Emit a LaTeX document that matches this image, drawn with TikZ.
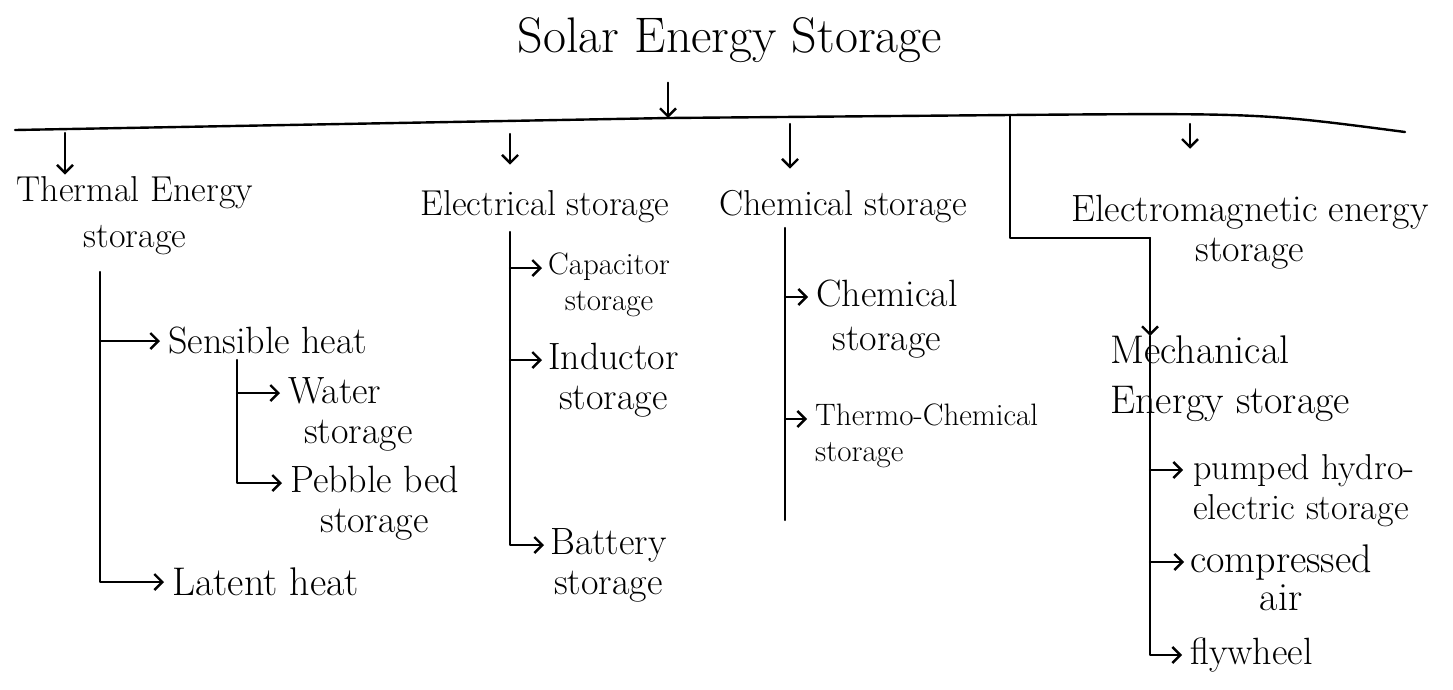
\documentclass[tikz,border=0pt]{standalone}
\usetikzlibrary{arrows.meta,calc}
\begin{document}
\begin{tikzpicture}[x=1pt,y=-1pt,
 ln/.style={line width=2.4pt, line cap=round, line join=round},
 arr/.style={ln, -{Straight Barb[length=8pt,width=16pt]}},
 ttl/.style={font=\fontsize{50}{56}\selectfont, inner sep=0pt},
 hd/.style={font=\fontsize{36}{46}\selectfont, inner sep=0pt, align=center},
 lb/.style={font=\fontsize{38}{40}\selectfont, inner sep=0pt},
 lbs/.style={font=\fontsize{31}{36}\selectfont, inner sep=0pt},
]
\useasboundingbox (0,0) rectangle (1453,689);

% title and main bar
\node[ttl] (title) at (730,40) {Solar Energy Storage};
\coordinate (bL) at (15,130);
\coordinate (bT) at (668,118);
\coordinate (bK) at (1010,115);
\coordinate (bR) at (1405,132);
\draw[ln] (bL) -- (bT) -- (bK) .. controls (1260,113) .. (bR);
\draw[arr] ($(title.south -| bT)+(0,20)$) -- (bT);

% main categories
\node[hd] (thermal) at (135,216) {Thermal Energy\\storage};
\node[hd] (elec) at (545,207) {Electrical storage};
\node[hd] (chem) at (843,207) {Chemical storage};
\node[hd, font=\fontsize{38}{40}\selectfont] (emag) at (1250,232) {Electromagnetic energy\\storage};
\node[hd, align=left, anchor=north west, font=\fontsize{40}{50}\selectfont] (mech) at (1110,336) {Mechanical\\Energy storage};

\coordinate (b1) at (65,133);
\coordinate (b2) at (510,134);
\coordinate (b3) at (790,124);
\coordinate (b4) at (1190,124);
\draw[arr] (b1) -- ($(b1 |- thermal.north)+(0,-2)$);
\draw[arr] (b2) -- ($(b2 |- elec.north)+(0,-26)$);
\draw[arr] (b3) -- ($(b3 |- elec.north)+(0,-22)$);
\draw[arr] (b4) -- ($(b4 |- emag.north)+(0,-46)$);

% thermal energy storage
\node[lb, anchor=west] (sens) at (168,341) {Sensible heat};
\node[lb, align=left, anchor=north west] (water) at (288,377) {Water\\\hspace*{16pt}storage};
\node[lb, align=center, anchor=north west] (pebble) at (290,466) {Pebble bed\\storage};
\node[lb, anchor=west, font=\fontsize{40}{44}\selectfont] (latent) at (172,582) {Latent heat};
\coordinate (tv) at (100,272);
\coordinate (sv) at (237,360);
\draw[arr] (tv |- sens.west) -- ([xshift=-8pt]sens.west);
\draw[arr] (tv) |- ([xshift=-8pt]latent.west);
\draw[arr] (sv |- water.north) ++(0,16) -- ($(water.north west)+(-8,16)$);
\draw[arr] (sv) |- ($(pebble.north west)+(-8,17)$);

% electrical storage
\node[lbs, align=center, anchor=north west] (cap) at (548,253) {Capacitor\\storage};
\node[lb, align=center, anchor=north west] (ind) at (548,343) {Inductor\\storage};
\node[lb, align=center, anchor=north west] (bat) at (550,528) {Battery\\storage};
\coordinate (ev) at (510,232);
\draw[arr] (ev |- cap.north) ++(0,15) -- ($(cap.north west)+(-6,15)$);
\draw[arr] (ev |- ind.north) ++(0,17) -- ($(ind.north west)+(-6,17)$);
\draw[arr] (ev) |- ($(bat.north west)+(-6,17)$);

% chemical storage
\node[lb, align=center, anchor=north west, font=\fontsize{38}{44}\selectfont] (chem2) at (816,280) {Chemical\\storage};
\node[lbs, align=left, anchor=north west] (thermo) at (815,404) {Thermo-Chemical\\storage};
\coordinate (cv) at (785,228);
\coordinate (cb) at (785,520);
\draw[ln] (cv) -- (cb);
\draw[arr] (cv |- chem2.north) ++(0,17) -- ($(chem2.north west)+(-8,17)$);
\draw[arr] (cv |- thermo.north) ++(0,15) -- ($(thermo.north west)+(-8,15)$);

% mechanical energy storage
\node[lb, align=left, anchor=north west, font=\fontsize{36}{40}\selectfont] (pumped) at (1193,454) {pumped hydro-\\electric storage};
\node[lb, align=center, anchor=north west, font=\fontsize{40}{38}\selectfont] (comp) at (1190,545) {compressed\\air};
\node[lb, anchor=west] (fly) at (1190,655) {flywheel};
\coordinate (mk) at (1150,238);
\draw[ln] (bK) |- (mk);
\draw[arr] (mk) -- (mk |- mech.north);
\draw[arr] (mk |- mech.north) |- ([xshift=-8pt]fly.west);
\draw[arr] (mk |- pumped.north) ++(0,16) -- ($(pumped.north west)+(-10,16)$);
\draw[arr] (mk |- comp.north) ++(0,17) -- ($(comp.north west)+(-6,17)$);
\end{tikzpicture}
\end{document}
